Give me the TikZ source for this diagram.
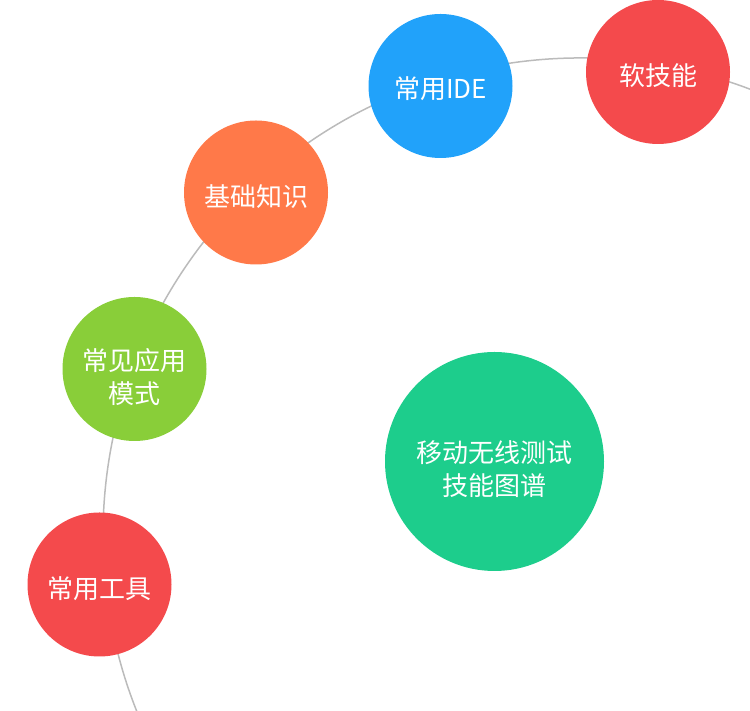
\documentclass[tikz,border=0pt]{standalone}
\usepackage{fontspec}
\newfontfamily\cjk{Noto Sans CJK SC}
\definecolor{bubblered}{RGB}{244,74,76}
\definecolor{bubbleblue}{RGB}{33,162,250}
\definecolor{bubbleorange}{RGB}{255,121,73}
\definecolor{bubblelime}{RGB}{137,206,57}
\definecolor{bubblegreen}{RGB}{29,205,140}
\definecolor{trackgray}{RGB}{187,187,187}
\begin{document}
\begin{tikzpicture}[x=1pt,y=1pt,
  bubble/.style={circle, fill=#1, draw=none, minimum size=144pt, inner sep=0pt},
  hub/.style={bubble=#1, minimum size=219pt},
  caption/.style={text=white, align=center, font=\cjk\fontsize{26}{33}\selectfont},
  track/.style={draw=trackgray, line width=1.5pt}]
\useasboundingbox (0,0) rectangle (750,711);
% curved track behind the skill bubbles
\begin{scope}
  \clip (0,0) rectangle (750,711);
  \coordinate (trackcenter) at (580,176);
  \draw[track] (trackcenter) ++(55:477) arc[start angle=55, end angle=210, radius=477];
\end{scope}
% skill bubbles along the track
\node[bubble=bubblered]    (soft)  at (658,639)   {};
\node[bubble=bubbleblue]   (ide)   at (440.5,625) {};
\node[bubble=bubbleorange] (basic) at (256,518.5) {};
\node[bubble=bubblelime]   (mode)  at (134.5,342) {};
\node[bubble=bubblered]    (tools) at (99.5,126.5) {};
% central topic
\node[hub=bubblegreen] (topic) at (494.5,249.5) {};
% bubble captions, set a little below each centre
\node[caption] (softtext)  at ([yshift=-4pt]soft.center)  {软技能};
\node[caption] (idetext)   at ([yshift=-3pt]ide.center)   {常用IDE};
\node[caption] (basictext) at ([yshift=-4pt]basic.center) {基础知识};
\node[caption] (modetext)  at ([yshift=-8pt]mode.center)  {常见应用\\模式};
\node[caption] (toolstext) at ([yshift=-4pt]tools.center) {常用工具};
\node[caption] (topictext) at ([yshift=-8pt]topic.center) {移动无线测试\\技能图谱};
\end{tikzpicture}
\end{document}
